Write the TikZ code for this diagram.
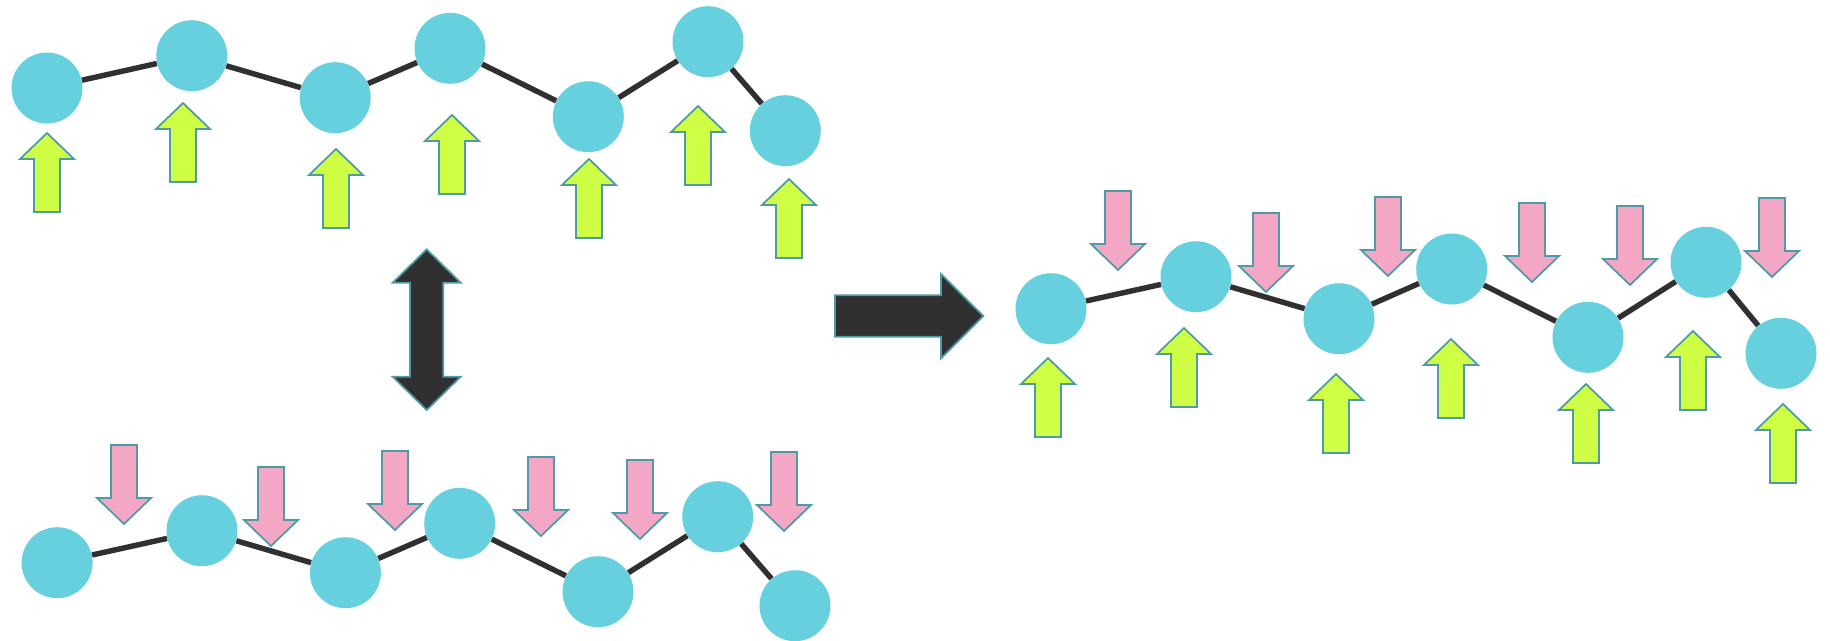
\documentclass[tikz,border=0pt]{standalone}
\usepackage{tikz}

\definecolor{beadcyan}{RGB}{103,208,222}
\definecolor{pushgreen}{RGB}{207,255,69}
\definecolor{pullpink}{RGB}{244,167,196}
\definecolor{rimteal}{RGB}{79,154,168}
\definecolor{bonddark}{RGB}{48,48,48}

\begin{document}
\begin{tikzpicture}[x=0.02cm,y=-0.02cm,
  bead/.style={circle,fill=beadcyan,inner sep=0pt,minimum size=1.42cm},
  bond/.style={bonddark,line width=3.1pt},
  pusharr/.style={fill=pushgreen,draw=rimteal,line width=1pt,line join=miter},
  pullarr/.style={fill=pullpink,draw=rimteal,line width=1pt,line join=miter},
  bigarr/.style={fill=bonddark,draw=rimteal,line width=1pt,line join=miter}]
\useasboundingbox (0,0) rectangle (1830,640);

% beads of the three chains
\foreach \n/\x/\y in {1/47/88,2/191.8/55.7,3/335.2/97.7,4/450/48.3,5/588.3/116.7,6/708/41.7,7/785.3/130.7}
  \node[bead] (t\n) at (\x,\y) {};
\foreach \n/\x/\y in {1/57.1/562.7,2/202/530.7,3/345.4/572.7,4/459.7/523.3,5/598/591.7,6/717.7/516.7,7/795/605.7}
  \node[bead] (b\n) at (\x,\y) {};
\foreach \n/\x/\y in {1/1051/308.7,2/1196/276.7,3/1339/318.7,4/1451.7/269,5/1588/337.3,6/1706/262.3,7/1781/353.3}
  \node[bead] (r\n) at (\x,\y) {};

% bonds
\foreach \c in {t,b,r}
  \foreach \a/\b in {1/2,2/3,3/4,4/5,5/6,6/7}
    \draw[bond] (\c\a) -- (\c\b);

% pushing arrows (tip given)
\foreach \x/\y in {47/133,183/103,336/149,452/115,589/159,698/106,789/179,
                   1048/358,1184/328,1336/374,1451/339,1586/384,1693/331,1783/404}
  \draw[pusharr] (\x,\y) -- ++(27,26) -- ++(-14,0) -- ++(0,53) -- ++(-26,0)
    -- ++(0,-53) -- ++(-14,0) -- cycle;

% pulling arrows (top of shaft given)
\foreach \x/\y in {124/445,271/467,395/451,541/457,640/460,784/452,
                   1118/191,1266/213,1388/197,1532/203,1630/206,1772/198}
  \draw[pullarr] (\x,\y) ++(-13,0) -- ++(26,0) -- ++(0,53) -- ++(14,0)
    -- ++(-27,26) -- ++(-27,-26) -- ++(14,0) -- cycle;

% exchange and result arrows
\draw[bigarr] (426.7,249.3) -- (460.7,282.7) -- (443.3,282.7) -- (443.3,376.7) -- (460.7,376.7)
  -- (426.7,410) -- (392.7,376.7) -- (410,376.7) -- (410,282.7) -- (392.7,282.7) -- cycle;
\draw[bigarr] (835,295.3) -- (941,295.3) -- (941,274) -- (983.3,316) -- (941,358.3)
  -- (941,336.7) -- (835,336.7) -- cycle;
\end{tikzpicture}
\end{document}
